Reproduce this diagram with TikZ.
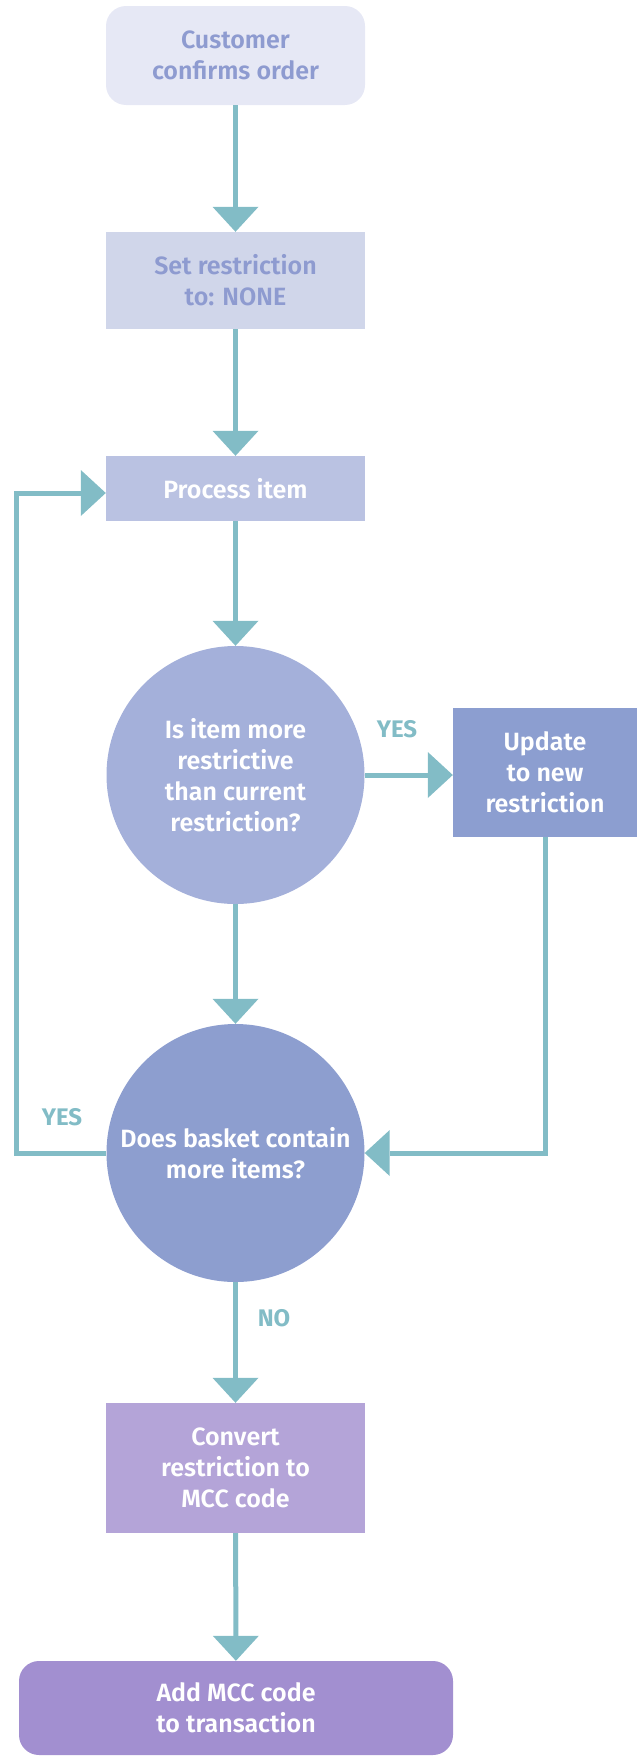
\documentclass[tikz,border=0pt]{standalone}
\usepackage{fontspec}
\setmainfont{Fira Sans SemiBold}
\newfontfamily\labelfont{Fira Sans Bold}
\usetikzlibrary{arrows.meta}
\definecolor{linkc}{HTML}{82BCC6}
\definecolor{startfill}{HTML}{E6E8F5}
\definecolor{setfill}{HTML}{D0D6EA}
\definecolor{softtext}{HTML}{8E9BD0}
\definecolor{procfill}{HTML}{BAC2E2}
\definecolor{qonefill}{HTML}{A4B0DA}
\definecolor{updfill}{HTML}{8C9ED0}
\definecolor{qtwofill}{HTML}{8D9ECF}
\definecolor{convfill}{HTML}{B4A4D8}
\definecolor{endfill}{HTML}{A28FD0}
\begin{document}
\begin{tikzpicture}[x=1pt,y=-1pt,
  txt/.style={font=\fontsize{25}{31}\selectfont, align=center, inner sep=0pt},
  box/.style={txt, rectangle, text=white, minimum width=259pt},
  decision/.style={txt, circle, text=white, minimum size=258pt},
  arr/.style={draw=linkc, line width=5pt, -{Triangle[width=46pt,length=25pt,line width=0pt]}},
  lbl/.style={text=linkc, font=\labelfont\fontsize{24}{28}\selectfont, inner sep=0pt}]
\useasboundingbox (0,0) rectangle (637,1756);

% process steps and decisions
\node[box, rounded corners=20pt, fill=startfill, text=softtext, minimum height=99pt] (cust) at (235.5,55.5) {Customer\\confirms order};
\node[box, fill=setfill, text=softtext, minimum height=97pt] (setr) at (235.5,280.5) {Set restriction\\to: NONE};
\node[box, fill=procfill, minimum height=65pt] (proc) at (235.5,488.5) {Process item};
\node[decision, fill=qonefill] (q1) at (235.5,775) {Is item more\\restrictive\\than current\\restriction?};
\node[box, fill=updfill, minimum width=184pt, minimum height=129pt] (upd) at (545,772.5) {Update\\to new\\restriction};
\node[decision, fill=qtwofill] (q2) at (235.5,1153) {Does basket contain\\more items?};
\node[box, fill=convfill, minimum height=130pt] (conv) at (235.5,1468) {Convert\\restriction to\\MCC code};
\node[box, rounded corners=20pt, fill=endfill, minimum width=434pt, minimum height=94pt] (add) at (236,1708) {Add MCC code\\to transaction};

% branch labels
\node[lbl] (yesA) at (397,729) {YES};
\node[lbl] (yesB) at (62,1117) {YES};
\node[lbl] (noA) at (274,1318) {NO};

% connectors
\draw[arr] (cust) -- (setr);
\draw[arr] (setr) -- (proc);
\draw[arr] (proc) -- (q1);
\draw[arr] (q1.east) -- (q1.east -| upd.west);
\draw[arr] (q1) -- (q2);
\draw[arr] (upd.south) |- (q2.east);
\coordinate (loopL) at (16,1153);
\draw[arr] (q2.west) -- (loopL) |- ([yshift=-4.5pt]proc.west);
\draw[arr] (q2) -- (conv);
\draw[arr] (conv) -- (add);
\end{tikzpicture}
\end{document}
